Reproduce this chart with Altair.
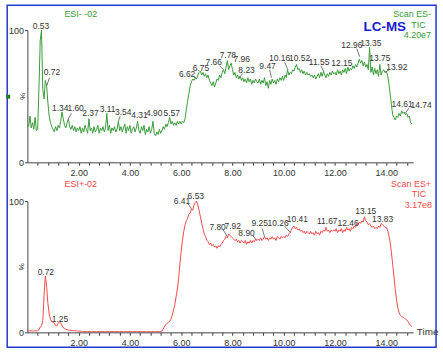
import altair as alt
import pandas as pd

STEP_MIN = 0.05  # sampling interval of the chromatograms (min)

# ESI- TIC, relative intensity (%), one value every 0.05 min
neg_0_5 = [
    28, 27, 35, 26, 30, 25, 34, 24, 25, 55, 92, 100, 55, 48, 62, 58, 45, 35, 30, 27,
    25, 23, 27, 24, 28, 26, 31, 38, 33, 28, 26, 30, 33, 27, 25, 28, 24, 27, 23, 26,
    24, 27, 22, 26, 23, 28, 25, 22, 33, 24, 26, 22, 27, 23, 25, 28, 22, 26, 24, 27,
    23, 26, 37, 24, 28, 22, 26, 24, 27, 23, 25, 31, 24, 27, 23, 26, 29, 22, 27, 24,
    28, 22, 25, 27, 23, 26, 31, 24, 22, 27, 24, 28, 21, 25, 23, 27, 22, 25, 31, 22,
]
neg_5_10 = [
    20, 23, 21, 25, 22, 24, 27, 25, 29, 27, 30, 34, 29, 31, 28, 30, 28, 31, 29, 31,
    29, 31, 30, 33, 40, 46, 52, 58, 61, 63, 62, 64, 63, 66, 68, 69, 66, 68, 65, 67,
    64, 66, 62, 60, 58, 61, 57, 60, 63, 62, 66, 64, 68, 70, 67, 72, 77, 70, 73, 75,
    70, 66, 68, 64, 66, 63, 65, 62, 64, 61, 63, 60, 64, 61, 63, 59, 62, 60, 63, 61,
    60, 63, 59, 62, 60, 64, 58, 61, 56, 62, 59, 63, 60, 62, 59, 63, 61, 64, 62, 65,
]
neg_10_15 = [
    62, 66, 64, 70, 66, 68, 67, 70, 69, 72, 74, 70, 71, 68, 70, 67, 69, 66, 68, 66,
    67, 65, 66, 64, 66, 63, 65, 67, 64, 68, 65, 69, 66, 64, 67, 65, 68, 66, 69, 67,
    68, 66, 70, 67, 69, 66, 70, 68, 71, 67, 72, 69, 71, 70, 73, 71, 74, 72, 75, 78,
    75, 77, 73, 76, 72, 74, 70, 87, 68, 72, 66, 71, 67, 70, 65, 74, 66, 69, 70, 68,
    69, 66, 60, 52, 44, 36, 34, 32, 35, 34, 37, 35, 39, 37, 38, 36, 37, 34, 35, 30,
    29,
]

# ESI+ TIC, relative intensity (%), one value every 0.05 min
pos_0_5 = [
    1.2, 1.2, 1.1, 1.2, 1.1, 1.2, 1.1, 1.2, 1.3, 2, 4, 5, 9, 28, 43, 35, 22, 14, 10, 8,
    8, 7, 5, 5, 7, 8, 7, 5, 3.5, 3, 2.5, 2, 1.8, 1.6, 1.5, 1.4, 1.3, 1.2, 1.2, 1.1,
    1.0, 0.9, 0.8, 0.7, 0.7, 0.6, 0.6, 0.6, 0.6, 0.6, 0.6, 0.6, 0.6, 0.6, 0.6, 0.6, 0.6, 0.6, 0.6, 0.6,
    0.6, 0.6, 0.6, 0.6, 0.6, 0.6, 0.6, 0.6, 0.6, 0.6, 0.6, 0.6, 0.6, 0.6, 0.6, 0.6, 0.6, 0.6, 0.6, 0.6,
    0.6, 0.6, 0.6, 0.6, 0.6, 0.6, 0.6, 0.6, 0.6, 0.6, 0.6, 0.6, 0.6, 0.6, 0.6, 0.6, 0.6, 0.6, 0.6, 0.6,
]
pos_5_10 = [
    0.6, 0.6, 0.6, 0.6, 0.7, 1, 2.5, 4.5, 6, 7, 7.5, 8.5, 10, 13, 17, 21, 27, 33, 41, 52,
    62, 70, 77, 82, 85, 87, 90, 91, 94, 93, 97, 99, 100, 97, 93, 88, 83, 79, 75, 73,
    70, 69, 67, 68, 66, 67, 65, 66, 64, 66, 65, 67, 68, 70, 71, 73, 72, 75, 74, 73,
    72, 71, 70, 71, 69, 70, 68, 70, 69, 68, 70, 67, 69, 68, 70, 68, 70, 69, 71, 70,
    71, 70, 72, 70, 71, 73, 71, 72, 70, 72, 71, 73, 71, 72, 70, 73, 72, 71, 73, 72,
]
pos_10_15 = [
    73, 72, 74, 73, 75, 76, 78, 80, 81, 79, 80, 78, 79, 77, 78, 76, 77, 75, 77, 76,
    75, 77, 75, 76, 74, 77, 75, 76, 74, 77, 76, 78, 77, 80, 77, 78, 76, 78, 77, 78,
    77, 79, 76, 78, 77, 79, 76, 78, 77, 80, 78, 79, 77, 80, 79, 81, 80, 83, 82, 84,
    83, 85, 84, 88, 85, 84, 82, 83, 81, 80, 81, 79, 80, 79, 81, 80, 83, 82, 81, 80,
    80, 78, 74, 69, 61, 52, 43, 33, 25, 19, 15, 13, 12, 11.5, 11, 10, 9.5, 8, 6.5, 5,
    4.5,
]

# Peak annotations (label text, label anchor time, label anchor intensity)
neg_peak_text = ["0.53", "0.72", "1.34", "1.60", "2.37", "3.11", "3.54", "4.31", "4.90",
                 "5.57", "6.62", "6.75", "7.66", "7.78", "7.96", "8.23", "9.47", "10.16",
                 "10.52", "11.55", "12.15", "12.96", "13.35", "13.75", "13.92", "14.61", "14.74"]
neg_peak_t = [0.53, 0.96, 1.28, 1.88, 2.46, 3.13, 3.74, 4.37, 4.95,
              5.63, 6.23, 6.77, 7.27, 7.82, 8.36, 8.55, 9.37, 9.84,
              10.62, 11.38, 12.27, 12.66, 13.40, 13.75, 14.41, 14.62, 15.36]
neg_peak_v = [103, 68, 41, 41, 37, 40, 38, 36, 37,
              37, 67, 71.5, 76, 81, 78, 70, 73, 79,
              79, 76, 75, 89, 90, 79, 72, 44, 43]

pos_peak_text = ["0.72", "1.25", "6.41", "6.53", "7.80", "7.92", "8.90", "9.25", "10.26",
                 "10.41", "11.67", "12.46", "13.15", "13.83"]
pos_peak_t = [0.72, 1.27, 6.03, 6.57, 7.42, 8.01, 8.55, 9.06, 9.78,
              10.53, 11.70, 12.51, 13.20, 13.86]
pos_peak_v = [46, 10.4, 100, 104, 80.5, 81, 76, 83, 83,
              86, 85, 83, 92.6, 86.3]

# Leader lines from labels to peaks (t1, v1) -> (t2, v2)
neg_lead_t1 = [0.86, 1.72, 3.62, 6.47, 7.50, 8.40, 9.45, 10.03, 11.45, 12.85, 14.12, 14.88]
neg_lead_v1 = [64, 37, 35, 65, 73, 67, 70, 76, 73, 86, 70, 41]
neg_lead_t2 = [0.76, 1.60, 3.55, 6.62, 7.66, 8.25, 9.52, 10.16, 11.55, 12.96, 13.95, 14.74]
neg_lead_v2 = [58, 33, 31, 63, 70, 64, 64, 70, 69, 80, 68, 37]

pos_lead_t1 = [6.26, 7.64, 8.78, 9.16, 10.03]
pos_lead_v1 = [98, 78, 74, 79, 81]
pos_lead_t2 = [6.41, 7.80, 8.95, 9.25, 10.26]
pos_lead_v2 = [94, 73, 70, 73, 76]

X_DOMAIN = [0, 15.05]
Y_DOMAIN = [0, 100]

FONT = "Liberation Sans Narrow, Liberation Sans, Arial, sans-serif"
FONT_BOLD = "Liberation Sans, Arial, sans-serif"
GREEN = "#3a9a3a"
RED = "#f24a4a"
BLUE_BORDER = "#2438d0"
TXT = "#333333"


def series(values):
    return pd.DataFrame({"t": [round(i * STEP_MIN, 2) for i in range(len(values))],
                         "v": values})


neg_df = series(neg_0_5 + neg_5_10 + neg_10_15)
pos_df = series(pos_0_5 + pos_5_10 + pos_10_15)
neg_lab = pd.DataFrame({"t": neg_peak_t, "v": neg_peak_v, "txt": neg_peak_text})
pos_lab = pd.DataFrame({"t": pos_peak_t, "v": pos_peak_v, "txt": pos_peak_text})
neg_lead = pd.DataFrame({"t1": neg_lead_t1, "v1": neg_lead_v1, "t2": neg_lead_t2, "v2": neg_lead_v2})
pos_lead = pd.DataFrame({"t1": pos_lead_t1, "v1": pos_lead_v1, "t2": pos_lead_t2, "v2": pos_lead_v2})
one = pd.DataFrame({"a": [0]})

tick_vals = [round(0.4 * k, 1) for k in range(1, 38)]
xscale = alt.Scale(domain=X_DOMAIN, nice=False, zero=False)
yscale = alt.Scale(domain=Y_DOMAIN, nice=False)

xaxis = alt.Axis(values=tick_vals, grid=False, title=None,
                 labelExpr="(datum.value > 0 && abs(datum.value/2 - round(datum.value/2)) < 0.001) ? format(datum.value, '.2f') : ''",
                 tickSize=3, labelPadding=3, labelOverlap=False, labelFlush=False,
                 labelBound=False)
yaxis = alt.Axis(values=[0, 100], grid=False, title=None, tickSize=3, labelPadding=1,
                 format="d", labelOverlap=False)

W, H_TOP, H_BOT = 388, 133, 132


def txt(text, x, y, color, size=9, align="left", weight="normal", font=FONT):
    return alt.Chart(one).mark_text(text=text, color=color, fontSize=size, align=align,
                                    baseline="middle", font=font, fontWeight=weight).encode(
        x=alt.value(x), y=alt.value(y))


def peak_labels(df):
    return alt.Chart(df).mark_text(font=FONT, fontSize=8.5, color=TXT).encode(
        x=alt.X("t:Q", scale=xscale, axis=xaxis),
        y=alt.Y("v:Q", scale=yscale, axis=yaxis),
        text="txt:N")


def leaders(df):
    return alt.Chart(df).mark_rule(color="#555555", strokeWidth=0.8).encode(
        x=alt.X("t1:Q", scale=xscale, axis=xaxis),
        y=alt.Y("v1:Q", scale=yscale, axis=yaxis),
        x2="t2:Q", y2="v2:Q")


def pct(xpx):
    return alt.Chart(one).mark_text(text="%", angle=90, fontSize=8, color=TXT, font=FONT).encode(
        x=alt.value(xpx), y=alt.YDatum(50, scale=yscale, axis=yaxis))


# ---- top panel (ESI-) ----
border = alt.Chart(one).mark_rect(fill="white", fillOpacity=0, stroke=BLUE_BORDER,
                                  strokeWidth=1.5).encode(
    x=alt.value(-20.3), x2=alt.value(411), y=alt.value(-25), y2=alt.value(319))

neg_line = alt.Chart(neg_df).mark_line(color=GREEN, strokeWidth=1).encode(
    x=alt.X("t:Q", scale=xscale, axis=xaxis),
    y=alt.Y("v:Q", scale=yscale, axis=yaxis))
marker = alt.Chart(one).mark_square(size=16, color="#1e7f1e", opacity=1).encode(
    x=alt.value(-19.3), y=alt.value(67))

top = alt.layer(
    border, neg_line, leaders(neg_lead), peak_labels(neg_lab), pct(-5.6), marker,
    txt("ESI- -02", 53.7, -16, GREEN, align="center"),
    txt("Scan ES-", 406, -16, GREEN, align="right"),
    txt("TIC", 400.5, -5.5, GREEN, align="right"),
    txt("4.20e7", 406, 5, GREEN, align="right"),
    txt("LC-MS", 359.5, -3, "#1a1ad0", size=13.5, align="center", weight="bold", font=FONT_BOLD),
).properties(width=W, height=H_TOP)

# ---- bottom panel (ESI+) ----
pos_line = alt.Chart(pos_df).mark_line(color=RED, strokeWidth=1).encode(
    x=alt.X("t:Q", scale=xscale, axis=xaxis),
    y=alt.Y("v:Q", scale=yscale, axis=yaxis))
time_lbl = alt.Chart(one).mark_text(text="Time", fontSize=10, color=TXT, font=FONT,
                                    align="left", baseline="middle").encode(
    x=alt.value(391.7), y=alt.YDatum(0, scale=yscale, axis=yaxis))

bottom = alt.layer(
    pos_line, leaders(pos_lead), peak_labels(pos_lab), pct(-6.3), time_lbl,
    txt("ESI+-02", 53.7, -17, RED, align="center"),
    txt("Scan ES+", 406, -17.5, RED, align="right"),
    txt("TIC", 401, -7, RED, align="right"),
    txt("3.17e8", 407, 3.5, RED, align="right"),
).properties(width=W, height=H_BOT)

chart = alt.vconcat(top, bottom, spacing=39, bounds="flush").properties(
    padding={"left": 5.55, "top": 3.25, "right": 4, "bottom": 4},
    background="white",
).configure_view(stroke=None).configure_axis(
    labelFont=FONT, labelFontSize=9, labelColor=TXT, labelOverlap=False,
    domainColor="#444444", tickColor="#444444", domainWidth=1, tickWidth=1,
)

chart.save("out.html", embed_options={"renderer": "svg", "actions": False})
